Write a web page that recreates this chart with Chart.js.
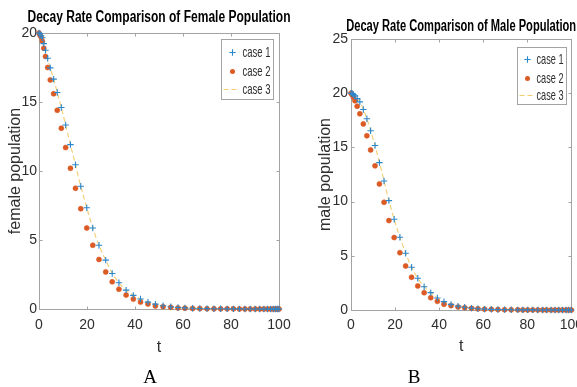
<!DOCTYPE html>
<html>
<head>
<meta charset="utf-8">
<script src="https://cdn.jsdelivr.net/npm/chart.js@4.4.0/dist/chart.umd.min.js"></script>
<style>
  html, body { margin: 0; padding: 0; background: #fff; overflow: hidden; width: 577px; height: 387px; }
  #wrap { position: relative; width: 577px; height: 387px; overflow: hidden; }
  canvas { position: absolute; top: 0; }
  #female { left: 0; width: 318px; height: 387px; }
  #male { left: 290px; width: 300px; height: 387px; }
  .cap { position: absolute; top: 367px; font: 19px "Liberation Serif", "Times New Roman", serif; line-height: 19px; color: #000; transform: translateX(-50%); }
</style>
</head>
<body>
<div id="wrap">
  <canvas id="female" width="318" height="387"></canvas>
  <canvas id="male" width="300" height="387"></canvas>
  <div class="cap" style="left:150px">A</div>
  <div class="cap" style="left:414px">B</div>
</div>
<script>
// ---- data ----
const caseLabels = ['case 1', 'case 2', 'case 3'];
const xTicks = [0, 20, 40, 60, 80, 100];

// female population, solver time steps
const femaleT = [0, 0.4, 0.9, 1.4, 2.0, 2.7, 3.6, 4.7, 6.1, 7.6,
  9.3, 11.1, 13.1, 15.2, 17.4, 19.9, 22.4, 25.0, 27.8, 30.5,
  33.3, 36.3, 39.3, 42.3, 45.4, 48.5, 51.7, 54.9, 57.9, 60.8,
  64.0, 67.0, 70.0, 72.9, 75.7, 78.4, 81.0, 83.5, 85.8, 88.0,
  90.1, 92.0, 93.7, 95.2, 96.5, 97.6, 98.5, 99.3, 100];
const femaleCase1 = [20.0, 19.95, 19.8, 19.66, 19.23, 18.75, 18.17, 17.47, 16.66, 15.69,
  14.6, 13.33, 11.91, 10.45, 8.9, 7.34, 5.87, 4.62, 3.54, 2.57,
  1.9, 1.37, 0.99, 0.72, 0.5, 0.35, 0.24, 0.16, 0.11, 0.08,
  0.05, 0.04, 0.03, 0.02, 0.015, 0.01, 0.01, 0.01, 0.005, 0.005,
  0, 0, 0, 0, 0, 0, 0, 0, 0];
const femaleCase2 = [20.0, 19.85, 19.7, 19.4, 18.9, 18.3, 17.5, 16.6, 15.6, 14.4,
  13.1, 11.7, 10.2, 8.75, 7.27, 5.87, 4.62, 3.59, 2.69, 1.97,
  1.44, 1.01, 0.72, 0.5, 0.36, 0.22, 0.17, 0.12, 0.08, 0.06,
  0.04, 0.03, 0.02, 0.015, 0.01, 0.01, 0.01, 0.005, 0.005, 0.005,
  0, 0, 0, 0, 0, 0, 0, 0, 0];
const femaleCase3 = [20.0, 19.95, 19.8, 19.66, 19.25, 18.75, 18.17, 17.47, 16.66, 15.7,
  14.6, 13.33, 11.9, 10.45, 8.9, 7.34, 5.87, 4.62, 3.54, 2.6,
  1.9, 1.37, 0.99, 0.72, 0.5, 0.35, 0.24, 0.16, 0.11, 0.08,
  0.05, 0.04, 0.03, 0.02, 0.015, 0.01, 0.01, 0.01, 0.005, 0.005,
  0, 0, 0, 0, 0, 0, 0, 0, 0];
const femaleYTicks = [0, 5, 10, 15, 20];

// male population, solver time steps
const maleT = [0, 0.5, 1.1, 1.8, 2.8, 4.0, 5.6, 7.2, 8.9, 10.9,
  12.9, 15.0, 17.2, 19.6, 22.2, 24.8, 27.5, 30.3, 33.2, 36.2,
  39.2, 42.2, 45.4, 48.6, 51.6, 54.7, 57.6, 60.6, 63.7, 66.7,
  69.7, 72.7, 75.7, 78.0, 80.2, 82.5, 84.8, 87.0, 88.8, 90.8,
  92.6, 94.3, 96.0, 97.6, 98.8, 100];
const maleCase1 = [20.0, 19.97, 19.88, 19.75, 19.5, 19.2, 18.5, 17.64, 16.53, 15.17,
  13.6, 11.9, 10.09, 8.37, 6.71, 5.24, 3.94, 2.93, 2.15, 1.6,
  1.11, 0.77, 0.52, 0.36, 0.25, 0.17, 0.12, 0.08, 0.06, 0.04,
  0.03, 0.02, 0.015, 0.01, 0.01, 0.01, 0.005, 0.005, 0, 0,
  0, 0, 0, 0, 0, 0];
const maleCase2 = [20.0, 19.85, 19.64, 19.3, 18.8, 18.1, 17.17, 16.07, 14.77, 13.3,
  11.63, 9.94, 8.25, 6.68, 5.29, 4.06, 3.02, 2.22, 1.6, 1.14,
  0.8, 0.53, 0.4, 0.28, 0.21, 0.15, 0.11, 0.08, 0.06, 0.04,
  0.03, 0.02, 0.015, 0.01, 0.01, 0.01, 0.005, 0.005, 0, 0,
  0, 0, 0, 0, 0, 0];
const maleCase3 = [20.0, 19.97, 19.88, 19.75, 19.5, 19.2, 18.5, 17.64, 16.53, 15.17,
  13.6, 11.9, 10.09, 8.37, 6.71, 5.24, 3.94, 2.93, 2.15, 1.6,
  1.11, 0.77, 0.52, 0.36, 0.25, 0.17, 0.12, 0.08, 0.06, 0.04,
  0.03, 0.02, 0.015, 0.01, 0.01, 0.01, 0.005, 0.005, 0, 0,
  0, 0, 0, 0, 0, 0];
const maleYTicks = [0, 5, 10, 15, 20, 25];

// ---- styling ----
const BLUE = '#2b87cc';
const ORANGE = '#dc5a24';
const YELLOW = 'rgba(237,177,32,0.65)';
const SANS = '"Liberation Sans", Arial, Helvetica, sans-serif';
const INK = '#2e2e2e';
const FRAME = '#a3a3a3';

const pts = (t, v) => t.map((x, i) => ({ x, y: v[i] }));

// Box around the plot area with MATLAB-style inward ticks; condensed title centred on the plot area
const axesBox = {
  id: 'axesBox',
  beforeDraw(chart, args, o) {
    const tb = chart.titleBlock, a = chart.chartArea;
    if (tb) {
      const cx = (a.left + a.right) / 2;
      tb.left = cx - o.titleWidth / 2; tb.right = cx + o.titleWidth / 2;
    }
  },
  beforeDatasetsDraw(chart, args, o) {
    const { ctx, chartArea: a, scales: { x, y } } = chart;
    const L = Math.round(a.left) + 0.5, R = Math.round(a.right) + 0.5;
    const T = Math.round(a.top) + 0.5, B = Math.round(a.bottom) + 0.5;
    ctx.save();
    ctx.strokeStyle = o.color;
    ctx.lineWidth = 1;
    ctx.strokeRect(L, T, R - L, B - T);
    ctx.beginPath();
    x.ticks.forEach(t => {
      const px = Math.round(x.getPixelForValue(t.value)) + 0.5;
      ctx.moveTo(px, B); ctx.lineTo(px, B - o.tick);
      ctx.moveTo(px, T); ctx.lineTo(px, T + o.tick);
    });
    y.ticks.forEach(t => {
      const py = Math.round(y.getPixelForValue(t.value)) + 0.5;
      ctx.moveTo(L, py); ctx.lineTo(L + o.tick, py);
      ctx.moveTo(R, py); ctx.lineTo(R - o.tick, py);
    });
    ctx.stroke();
    ctx.restore();
  }
};

// Boxed legend in the upper right corner of the plot area
const boxLegend = {
  id: 'boxLegend',
  afterDraw(chart, args, o) {
    const { ctx, chartArea: a } = chart;
    const left = Math.round(a.right - o.right - o.width) + 0.5;
    const top = Math.round(a.top + o.top) + 0.5;
    ctx.save();
    ctx.fillStyle = '#fff';
    ctx.fillRect(left, top, o.width, o.height);
    ctx.strokeStyle = o.borderColor;
    ctx.lineWidth = 1;
    ctx.strokeRect(left, top, o.width, o.height);
    ctx.font = o.font;
    ctx.textBaseline = 'middle';
    ctx.textAlign = 'left';
    chart.data.datasets.forEach((ds, i) => {
      const y = top + o.rows[i];
      const mx = left + o.markX;
      if (ds.showLine === false) {
        const r = ds.pointRadius;
        ctx.setLineDash([]);
        if (ds.pointStyle === 'cross') {
          ctx.strokeStyle = ds.borderColor;
          ctx.lineWidth = ds.pointBorderWidth;
          ctx.beginPath();
          ctx.moveTo(mx - r, y); ctx.lineTo(mx + r, y);
          ctx.moveTo(mx, y - r); ctx.lineTo(mx, y + r);
          ctx.stroke();
        } else {
          ctx.fillStyle = ds.backgroundColor;
          ctx.beginPath();
          ctx.arc(mx, y, r, 0, Math.PI * 2);
          ctx.fill();
        }
      } else {
        ctx.strokeStyle = ds.borderColor;
        ctx.lineWidth = ds.borderWidth;
        ctx.setLineDash(ds.borderDash);
        ctx.beginPath();
        ctx.moveTo(left + o.line[0], y); ctx.lineTo(left + o.line[1], y);
        ctx.stroke();
        ctx.setLineDash([]);
      }
      ctx.fillStyle = o.color;
      ctx.fillText(ds.label, left + o.textX, y, o.textWidth);
    });
    ctx.restore();
  }
};

function datasets(t, c1, c2, c3) {
  return [
    { label: caseLabels[0], data: pts(t, c1), showLine: false, pointStyle: 'cross',
      pointRadius: 3.2, pointBorderWidth: 1.1, borderColor: BLUE, backgroundColor: BLUE, clip: false },
    { label: caseLabels[1], data: pts(t, c2), showLine: false, pointStyle: 'circle',
      pointRadius: 2.5, pointBorderWidth: 0.6, borderColor: ORANGE, backgroundColor: ORANGE, clip: false },
    { label: caseLabels[2], data: pts(t, c3), showLine: true, pointRadius: 0, borderColor: YELLOW,
      backgroundColor: YELLOW, borderWidth: 1.1, borderDash: [5, 3], cubicInterpolationMode: 'monotone', clip: false }
  ];
}

function makeChart(id, p) {
  return new Chart(document.getElementById(id), {
    type: 'line',
    data: { datasets: datasets(p.t, p.c1, p.c2, p.c3) },
    plugins: [axesBox, boxLegend],
    options: {
      responsive: false,
      animation: false,
      events: [],
      layout: { padding: { left: 0, right: p.padRight, top: 0, bottom: p.padBottom } },
      plugins: {
        legend: { display: false },
        tooltip: { enabled: false },
        title: {
          display: true, text: p.title, color: '#000',
          font: { family: SANS, size: 16, weight: 'bold', lineHeight: 1.2 },
          padding: p.titlePad
        },
        axesBox: { color: FRAME, tick: 3, titleWidth: p.titleWidth },
        boxLegend: Object.assign({ borderColor: FRAME, color: INK, font: '14.5px ' + SANS }, p.legend)
      },
      scales: {
        x: {
          type: 'linear', min: 0, max: 100,
          afterBuildTicks: s => { s.ticks = xTicks.map(v => ({ value: v })); },
          grid: { display: false, drawTicks: false },
          border: { display: false },
          ticks: { color: INK, padding: p.xTickPad, font: { family: SANS, size: 14, lineHeight: 1.2 } },
          title: { display: true, text: 't', color: INK, font: { family: SANS, size: 16, lineHeight: 1.2 },
                   padding: { top: 0, bottom: p.xTitlePad } },
          afterFit: s => { s.height = 50; }
        },
        y: {
          type: 'linear', min: 0, max: p.yTicks[p.yTicks.length - 1],
          afterBuildTicks: s => { s.ticks = p.yTicks.map(v => ({ value: v })); },
          grid: { display: false, drawTicks: false },
          border: { display: false },
          ticks: { color: INK, padding: p.yTickPad, font: { family: SANS, size: 14, lineHeight: 1.2 } },
          title: { display: true, text: p.yTitle, color: INK, font: { family: SANS, size: 16, lineHeight: 1.2 },
                   padding: { top: p.yTitlePad, bottom: 0 } },
          afterFit: s => { s.width = p.yWidth; }
        }
      }
    }
  });
}

makeChart('female', {
  t: femaleT, c1: femaleCase1, c2: femaleCase2, c3: femaleCase3, yTicks: femaleYTicks,
  title: 'Decay Rate Comparison of Female Population', yTitle: 'female population',
  titleWidth: 263, padRight: 39, padBottom: 28, titlePad: { top: 8.4, bottom: 5.4 },
  xTickPad: 8, xTitlePad: 1.5, yTickPad: 2, yTitlePad: 6, yWidth: 39,
  legend: { right: 6, top: 6, width: 52, height: 60, rows: [13, 32, 50], markX: 11, textX: 21, textWidth: 28, line: [2, 17] }
});

makeChart('male', {
  t: maleT, c1: maleCase1, c2: maleCase2, c3: maleCase3, yTicks: maleYTicks,
  title: 'Decay Rate Comparison of Male Population', yTitle: 'male population',
  titleWidth: 230, padRight: 18, padBottom: 27, titlePad: { top: 17.1, bottom: 2.7 },
  xTickPad: 7, xTitlePad: 3.5, yTickPad: 3, yTitlePad: 26, yWidth: 61,
  legend: { right: 5, top: 8, width: 49, height: 57, rows: [12, 31, 48], markX: 10, textX: 19, textWidth: 27, line: [2, 15] }
});
</script>
</body>
</html>
